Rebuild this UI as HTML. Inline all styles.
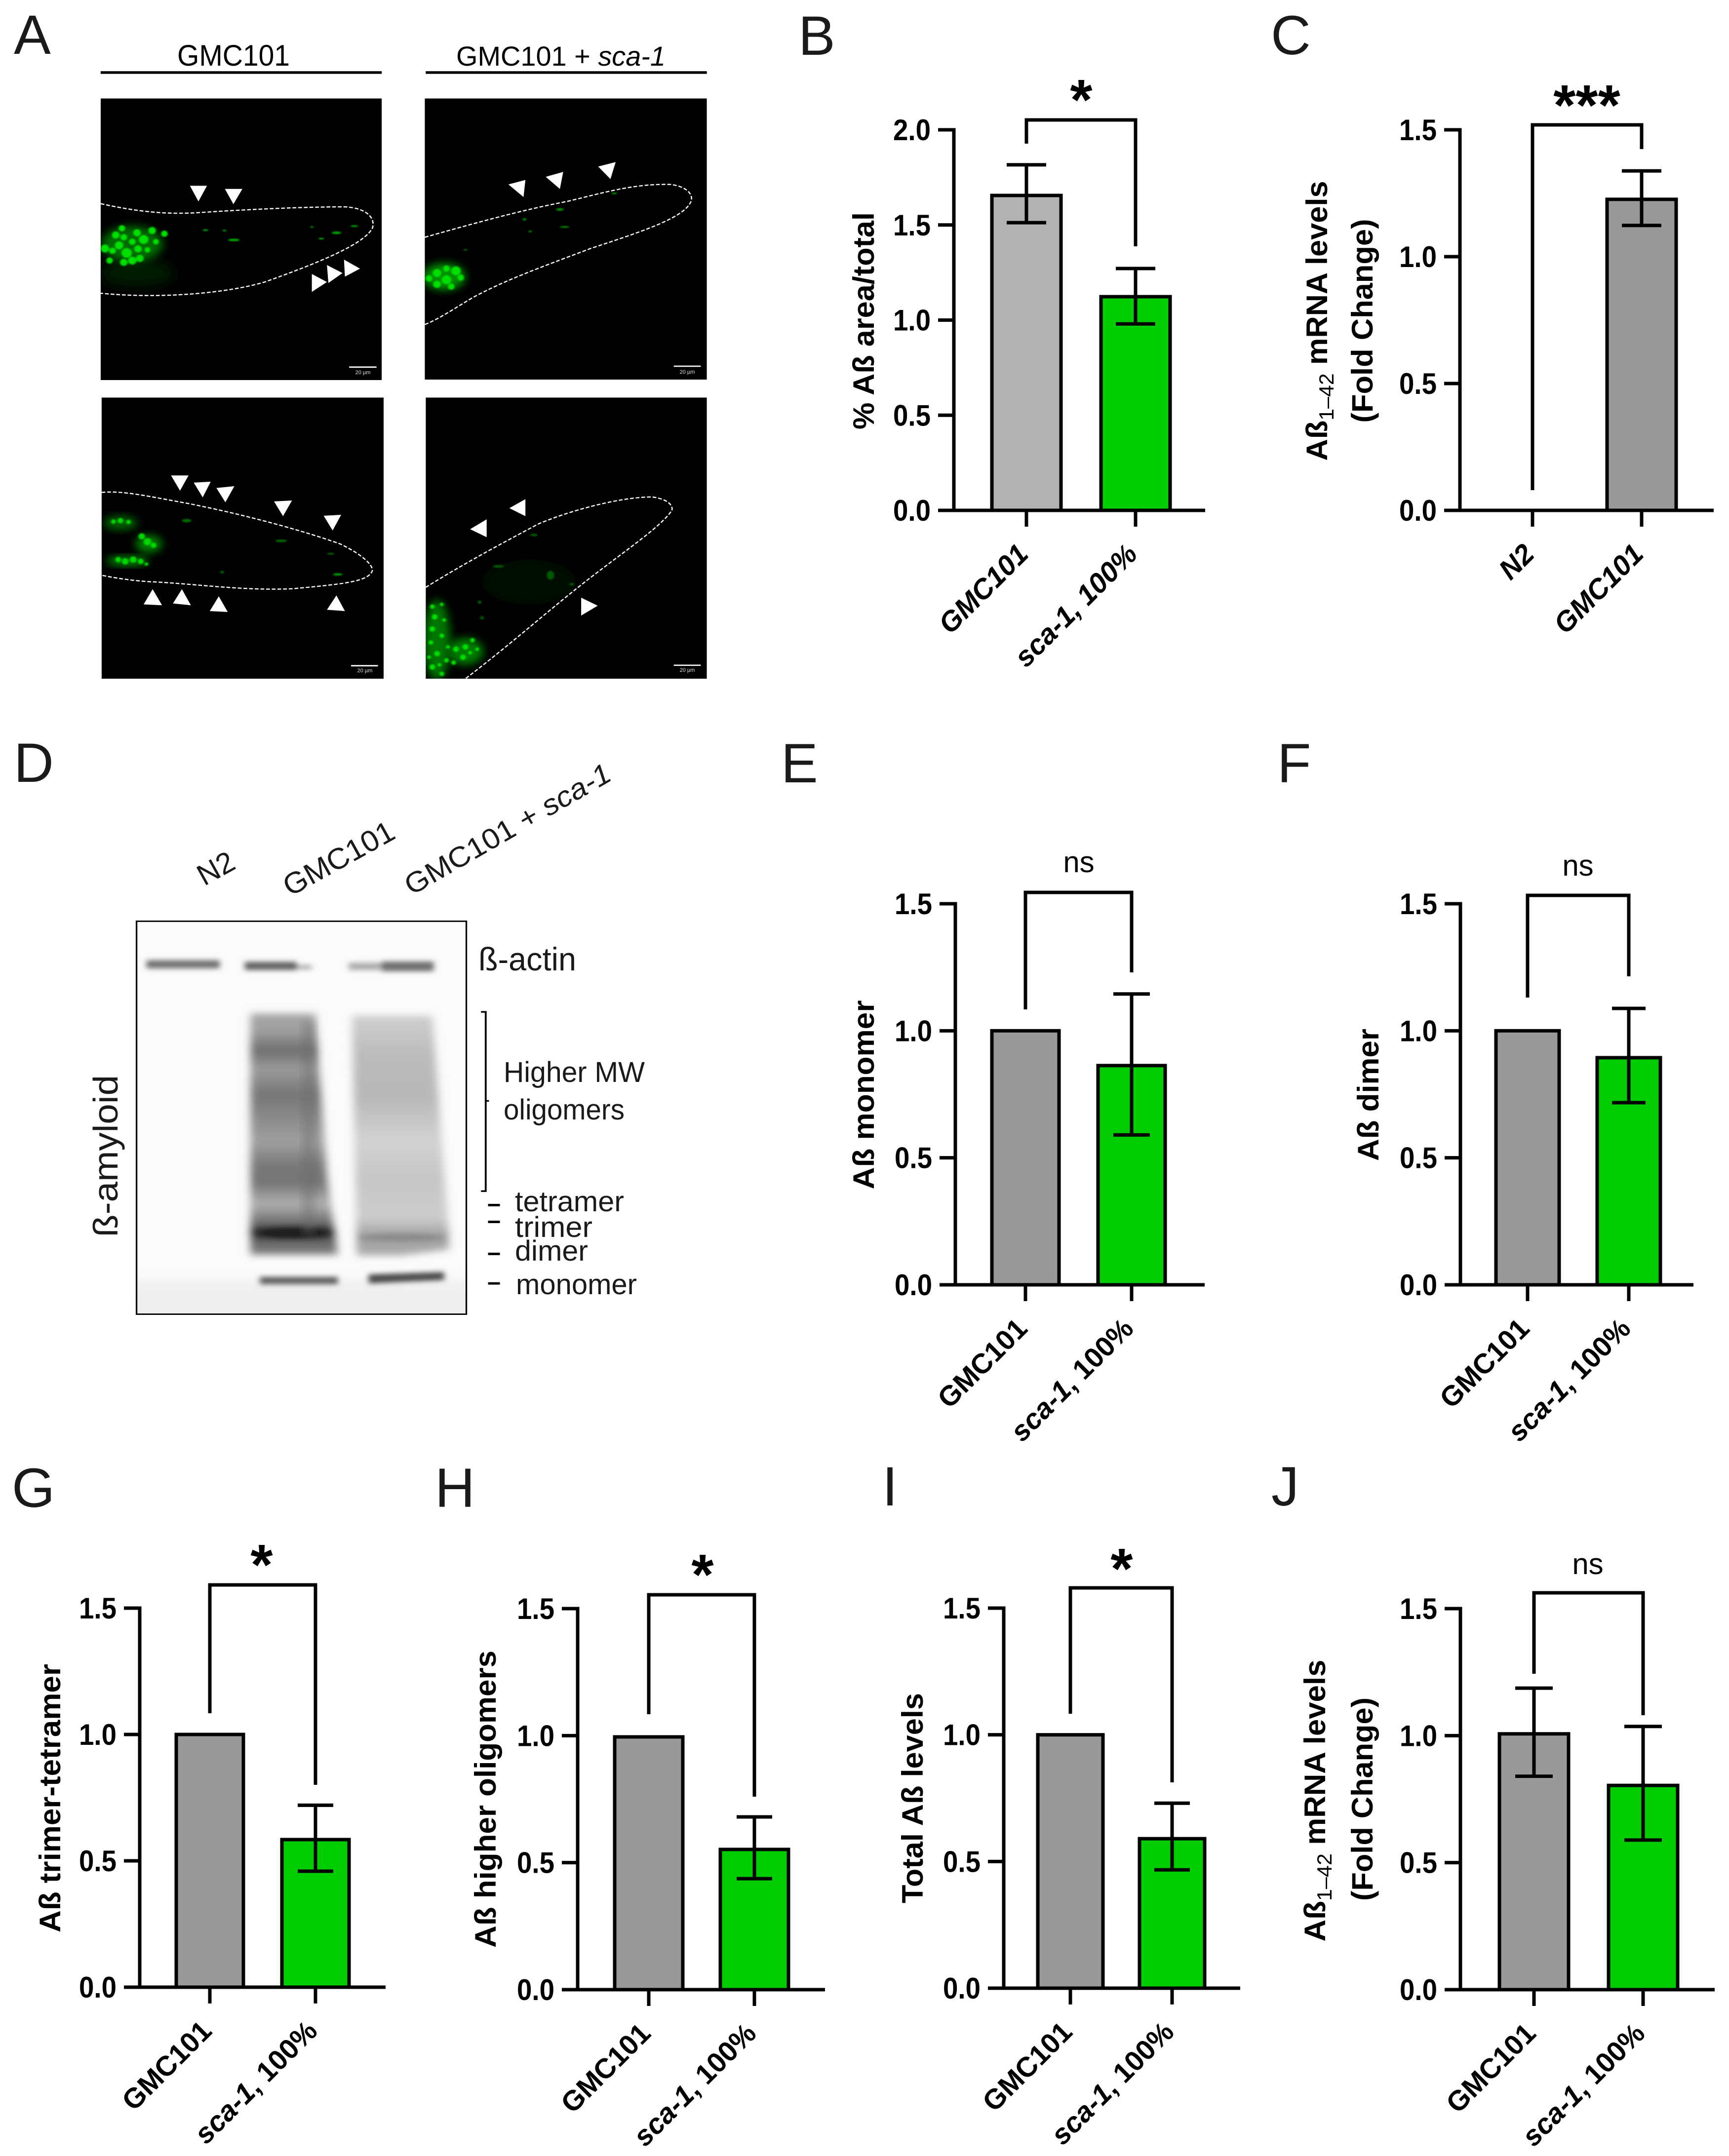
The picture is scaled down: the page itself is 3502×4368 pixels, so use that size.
<!DOCTYPE html>
<html lang="en">
<head>
<meta charset="utf-8">
<title>Amyloid beta figure panels A-J</title>
<style>
html,body{margin:0;padding:0;background:#fff;}
svg{display:block;}
text{font-family:"Liberation Sans",sans-serif;fill:#000;}
.letter{font-size:112px;fill:#1a1a1a;}
.calibri{font-size:66px;fill:#1a1a1a;}
</style>
</head>
<body>
<svg id="figure" xmlns="http://www.w3.org/2000/svg" width="3502" height="4368" viewBox="0 0 3502 4368">
<defs>
<filter id="b1" x="-30%" y="-30%" width="160%" height="160%"><feGaussianBlur stdDeviation="1.6"/></filter>
<filter id="b3" x="-30%" y="-30%" width="160%" height="160%"><feGaussianBlur stdDeviation="9"/></filter>
<filter id="b4" x="-30%" y="-150%" width="160%" height="400%"><feGaussianBlur stdDeviation="6"/></filter>
<filter id="b8" x="-30%" y="-30%" width="160%" height="160%"><feGaussianBlur stdDeviation="14"/></filter>
<clipPath id="c1"><rect x="213" y="220" width="595" height="629"/></clipPath>
<clipPath id="c2"><rect x="899" y="220" width="597" height="628"/></clipPath>
<clipPath id="c3"><rect x="215" y="888" width="597" height="628"/></clipPath>
<clipPath id="c4"><rect x="901" y="888" width="595" height="628"/></clipPath>
<clipPath id="blotclip"><rect x="289" y="465" width="698" height="958"/></clipPath>
<linearGradient id="lane1" x1="0" y1="0" x2="0" y2="1">
<stop offset="0" stop-color="#a6a6a6"/><stop offset=".07" stop-color="#a0a0a0"/><stop offset=".155" stop-color="#6e6e6e"/><stop offset=".23" stop-color="#9c9c9c"/><stop offset=".335" stop-color="#767676"/><stop offset=".44" stop-color="#8c8c8c"/><stop offset=".53" stop-color="#a0a0a0"/><stop offset=".63" stop-color="#787878"/><stop offset=".70" stop-color="#747474"/><stop offset=".79" stop-color="#b0b0b0"/><stop offset=".87" stop-color="#6c6c6c"/><stop offset=".905" stop-color="#202020"/><stop offset=".95" stop-color="#6a6a6a"/><stop offset="1" stop-color="#808080"/>
</linearGradient>
<linearGradient id="lane2" x1="0" y1="0" x2="0" y2="1">
<stop offset="0" stop-color="#cfcfcf"/><stop offset=".16" stop-color="#bcbcbc"/><stop offset=".34" stop-color="#b8b8b8"/><stop offset=".52" stop-color="#d2d2d2"/><stop offset=".68" stop-color="#c6c6c6"/><stop offset=".84" stop-color="#cdcdcd"/><stop offset=".92" stop-color="#a0a0a0"/><stop offset="1" stop-color="#acacac"/>
</linearGradient>
</defs>

<text class="letter" x="28" y="109">A</text>
<text class="letter" x="1617" y="111">B</text>
<text class="letter" x="2574" y="110">C</text>
<text class="letter" x="28" y="1584">D</text>
<text class="letter" x="1582" y="1585">E</text>
<text class="letter" x="2587" y="1585">F</text>
<text class="letter" x="24" y="3053">G</text>
<text class="letter" x="881" y="3053">H</text>
<text class="letter" x="1787" y="3050">I</text>
<text class="letter" x="2575" y="3050">J</text>

<!-- Panel A -->
<g>
<text x="473" y="133" text-anchor="middle" font-size="60" fill="#111" textLength="228" lengthAdjust="spacingAndGlyphs">GMC101</text>
<text x="924" y="133" font-size="56" fill="#111" textLength="424" lengthAdjust="spacingAndGlyphs">GMC101 + <tspan font-style="italic">sca-1</tspan></text>
<g transform="scale(.957 .907)">
<path d="M213 162H808" stroke="#000" stroke-width="6"/>
<path d="M901 162H1496" stroke="#000" stroke-width="6"/>

<g clip-path="url(#c1)">
<rect x="213" y="220" width="595" height="629" fill="#000"/>
<ellipse cx="290" cy="610" rx="80" ry="30" fill="#001a00" filter="url(#b8)"/>
<ellipse cx="280" cy="545" rx="65" ry="40" fill="#006a00" filter="url(#b3)"/>
<g fill="#00e000" filter="url(#b1)">
<circle cx="222" cy="555" r="9"/><circle cx="238" cy="560" r="7"/><circle cx="245" cy="525" r="8"/><circle cx="258" cy="510" r="7"/><circle cx="262" cy="530" r="7"/><circle cx="252" cy="548" r="9"/><circle cx="268" cy="565" r="11"/><circle cx="280" cy="582" r="9"/><circle cx="262" cy="586" r="8"/><circle cx="296" cy="577" r="8"/><circle cx="290" cy="520" r="8"/><circle cx="304" cy="535" r="10"/><circle cx="322" cy="515" r="8"/><circle cx="348" cy="522" r="7"/><circle cx="330" cy="540" r="6"/><circle cx="292" cy="556" r="8"/><circle cx="232" cy="582" r="7"/><circle cx="312" cy="558" r="6"/><circle cx="280" cy="540" r="7"/>
</g>
<g fill="#00a000" filter="url(#b1)">
<ellipse cx="435" cy="514" rx="6" ry="2"/><ellipse cx="475" cy="515" rx="4" ry="2"/><ellipse cx="495" cy="536" rx="12" ry="3"/><ellipse cx="680" cy="533" rx="6" ry="2"/><ellipse cx="712" cy="520" rx="10" ry="3"/><ellipse cx="660" cy="507" rx="3" ry="2"/><ellipse cx="750" cy="505" rx="8" ry="2"/>
</g>
<path d="M213 455C280 470 340 480 420 475C520 468 640 462 730 462C780 465 795 490 788 510C770 545 680 585 560 630C480 655 340 668 213 655" fill="none" stroke="#fff" stroke-width="2.6" stroke-dasharray="8 4"/>
<g fill="#fff">
<polygon points="402,415 438,415 420,450"/><polygon points="476,422 513,422 494,456"/><polygon points="660,612 692,630 660,652"/><polygon points="692,592 725,610 695,632"/><polygon points="728,580 762,600 730,618"/>
</g>
<path d="M739 820H797" stroke="#fff" stroke-width="3"/>
</g>

<g clip-path="url(#c2)">
<rect x="899" y="220" width="597" height="628" fill="#000"/>
<ellipse cx="940" cy="618" rx="45" ry="30" fill="#009000" filter="url(#b3)"/>
<g fill="#00e000" filter="url(#b1)">
<circle cx="925" cy="610" r="9"/><circle cx="945" cy="600" r="7"/><circle cx="965" cy="605" r="10"/><circle cx="975" cy="620" r="7"/><circle cx="945" cy="625" r="10"/><circle cx="925" cy="635" r="8"/><circle cx="955" cy="640" r="7"/><circle cx="908" cy="622" r="7"/>
</g>
<g fill="#008a00" filter="url(#b1)">
<ellipse cx="1110" cy="490" rx="4" ry="3"/><ellipse cx="1185" cy="468" rx="8" ry="3"/><ellipse cx="1195" cy="507" rx="10" ry="2"/><ellipse cx="1122" cy="517" rx="4" ry="2"/><ellipse cx="985" cy="558" rx="4" ry="1.5"/><ellipse cx="1300" cy="432" rx="6" ry="2"/>
</g>
<path d="M899 530C1000 500 1100 470 1200 450C1280 430 1340 410 1420 412C1460 418 1470 440 1460 455C1440 490 1350 520 1250 555C1150 595 1070 625 1000 665C960 690 930 712 899 725" fill="none" stroke="#fff" stroke-width="2.6" stroke-dasharray="8 4"/>
<g fill="#fff">
<polygon points="1076,412 1112,402 1108,440"/><polygon points="1155,395 1192,384 1185,422"/><polygon points="1266,372 1303,362 1292,400"/>
</g>
<path d="M1426 818H1483" stroke="#fff" stroke-width="3"/>
</g>

<g clip-path="url(#c3)">
<rect x="215" y="888" width="597" height="628" fill="#000"/>
<ellipse cx="255" cy="1168" rx="36" ry="16" fill="#006000" filter="url(#b3)"/>
<ellipse cx="315" cy="1215" rx="28" ry="20" fill="#008000" filter="url(#b3)"/>
<ellipse cx="270" cy="1253" rx="45" ry="11" fill="#008800" filter="url(#b3)"/>
<g fill="#00d800" filter="url(#b1)">
<circle cx="240" cy="1165" r="5"/><circle cx="255" cy="1163" r="6"/><circle cx="272" cy="1166" r="5"/><circle cx="300" cy="1198" r="7"/><circle cx="312" cy="1210" r="8"/><circle cx="325" cy="1218" r="6"/><circle cx="250" cy="1250" r="6"/><circle cx="265" cy="1254" r="7"/><circle cx="282" cy="1250" r="7"/><circle cx="298" cy="1254" r="6"/><circle cx="310" cy="1260" r="4"/>
</g>
<g fill="#006800" filter="url(#b1)">
<ellipse cx="395" cy="1163" rx="10" ry="4"/><ellipse cx="595" cy="1208" rx="12" ry="3"/><ellipse cx="715" cy="1283" rx="10" ry="3" fill="#009000"/><ellipse cx="700" cy="1237" rx="8" ry="2"/><ellipse cx="470" cy="1278" rx="4" ry="3"/>
</g>
<path d="M215 1100C260 1095 320 1110 400 1125C520 1150 640 1185 720 1215C760 1235 790 1260 788 1275C780 1300 720 1305 620 1315C520 1320 420 1305 330 1300C280 1298 240 1290 215 1285" fill="none" stroke="#fff" stroke-width="2.6" stroke-dasharray="8 4"/>
<g fill="#fff">
<polygon points="362,1062 399,1062 381,1096"/><polygon points="410,1078 446,1076 429,1111"/><polygon points="458,1090 496,1086 477,1122"/><polygon points="580,1120 618,1118 599,1153"/><polygon points="685,1152 722,1150 704,1185"/><polygon points="304,1350 343,1352 323,1316"/><polygon points="366,1348 404,1352 385,1316"/><polygon points="444,1365 482,1367 463,1332"/><polygon points="692,1362 730,1365 712,1330"/>
</g>
<path d="M743 1487H800" stroke="#fff" stroke-width="3"/>
</g>

<g clip-path="url(#c4)">
<rect x="901" y="888" width="595" height="628" fill="#000"/>
<ellipse cx="925" cy="1430" rx="28" ry="90" fill="#007400" filter="url(#b3)"/>
<ellipse cx="985" cy="1455" rx="38" ry="30" fill="#007c00" filter="url(#b3)"/>
<ellipse cx="1120" cy="1300" rx="100" ry="50" fill="#000a00" filter="url(#b8)"/>
<g fill="#00e000" filter="url(#b1)">
<circle cx="915" cy="1355" r="5"/><circle cx="935" cy="1350" r="4"/><circle cx="920" cy="1378" r="6"/><circle cx="940" cy="1385" r="4"/><circle cx="915" cy="1405" r="6"/><circle cx="935" cy="1420" r="5"/><circle cx="912" cy="1435" r="5"/><circle cx="925" cy="1460" r="6"/><circle cx="945" cy="1475" r="5"/><circle cx="915" cy="1490" r="6"/><circle cx="935" cy="1505" r="5"/><circle cx="965" cy="1450" r="6"/><circle cx="985" cy="1445" r="6"/><circle cx="1000" cy="1430" r="5"/><circle cx="980" cy="1468" r="6"/><circle cx="960" cy="1480" r="5"/><circle cx="1010" cy="1450" r="4"/><circle cx="948" cy="1445" r="4"/><circle cx="995" cy="1458" r="4"/><circle cx="908" cy="1468" r="4"/><circle cx="930" cy="1485" r="4"/>
</g>
<g fill="#005800" filter="url(#b1)">
<circle cx="1015" cy="1345" r="4"/><circle cx="1020" cy="1380" r="4"/><ellipse cx="1055" cy="1265" rx="12" ry="3"/><ellipse cx="1165" cy="1285" rx="8" ry="10"/><ellipse cx="1130" cy="1195" rx="8" ry="3"/><ellipse cx="1210" cy="1305" rx="5" ry="3"/>
</g>
<path d="M901 1312C980 1260 1060 1215 1140 1170C1220 1135 1320 1110 1380 1110C1415 1115 1425 1130 1422 1140C1400 1175 1330 1225 1250 1290C1170 1355 1080 1440 985 1516" fill="none" stroke="#fff" stroke-width="2.6" stroke-dasharray="8 4"/>
<g fill="#fff">
<polygon points="1030,1160 1030,1200 995,1182"/><polygon points="1112,1115 1112,1153 1078,1135"/><polygon points="1230,1335 1230,1375 1265,1353"/>
</g>
<path d="M1426 1486H1483" stroke="#fff" stroke-width="3"/>
</g>
</g>
<text x="735" y="758" text-anchor="middle" font-size="11" style="fill:#ddd">20 µm</text>
<text x="1392" y="757" text-anchor="middle" font-size="11" style="fill:#ddd">20 µm</text>
<text x="739" y="1362" text-anchor="middle" font-size="11" style="fill:#ddd">20 µm</text>
<text x="1392" y="1361" text-anchor="middle" font-size="11" style="fill:#ddd">20 µm</text>
</g>

<!-- Panel D -->
<g>
<g transform="translate(0 1480) scale(.957 .831)">
<rect x="289" y="465" width="698" height="958" fill="#fbfbfb"/>
<g clip-path="url(#blotclip)">
<rect x="260" y="1340" width="760" height="120" fill="#efefef" filter="url(#b8)"/>
</g>
<g filter="url(#b4)">
<rect x="310" y="560" width="155" height="20" fill="#707070"/>
<rect x="518" y="564" width="110" height="20" fill="#606060"/>
<rect x="628" y="572" width="32" height="10" fill="#a8a8a8"/>
<rect x="738" y="566" width="70" height="18" fill="#aaaaaa"/>
<rect x="808" y="563" width="110" height="24" fill="#707070"/>
</g>
<g>
<polygon points="530,690 668,690 692,1090 715,1278 530,1278" fill="url(#lane1)" filter="url(#b3)"/>
<polygon points="745,695 915,695 950,1230 950,1265 850,1280 755,1280" fill="url(#lane2)" filter="url(#b3)"/>
<ellipse cx="620" cy="1225" rx="75" ry="12" fill="#1c1c1c" filter="url(#b4)"/>
<rect x="640" y="710" width="26" height="520" fill="#6a6a6a" opacity=".4" filter="url(#b3)"/>
<ellipse cx="850" cy="1236" rx="90" ry="9" fill="#8a8a8a" filter="url(#b4)"/>
</g>
<g filter="url(#b4)">
<rect x="550" y="1332" width="165" height="18" fill="#5e5e5e"/>
<polygon points="780,1326 940,1320 940,1340 780,1348" fill="#4c4c4c"/>
</g>
<rect x="289" y="465" width="698" height="958" fill="none" stroke="#000" stroke-width="3.4"/>
<path d="M1018 686H1028V1123H1018M1028 903H1035" fill="none" stroke="#000" stroke-width="4"/>
<path d="M1033 1157H1058" stroke="#000" stroke-width="6"/>
<path d="M1033 1198H1058" stroke="#000" stroke-width="6"/>
<path d="M1033 1276H1058" stroke="#000" stroke-width="6"/>
<path d="M1033 1348H1058" stroke="#000" stroke-width="6"/>
</g>
<text class="calibri" transform="translate(447 1777) rotate(-29)" text-anchor="middle" style="font-size:60px">N2</text>
<text class="calibri" transform="translate(696 1757) rotate(-29)" text-anchor="middle" style="font-size:60px" textLength="248" lengthAdjust="spacingAndGlyphs">GMC101</text>
<text class="calibri" transform="translate(1038 1697) rotate(-30)" text-anchor="middle" style="font-size:58px" textLength="472" lengthAdjust="spacingAndGlyphs">GMC101 + <tspan font-style="italic">sca-1</tspan></text>
<text class="calibri" transform="translate(238 2342) rotate(-90)" text-anchor="middle" style="font-size:70px" textLength="328" lengthAdjust="spacingAndGlyphs">ß-amyloid</text>
<text class="calibri" x="969" y="1966" textLength="198" lengthAdjust="spacingAndGlyphs">ß-actin</text>
<text class="calibri" x="1020" y="2192" style="font-size:58px" textLength="286" lengthAdjust="spacingAndGlyphs">Higher MW</text>
<text class="calibri" x="1020" y="2268" style="font-size:58px" textLength="245" lengthAdjust="spacingAndGlyphs">oligomers</text>
<text class="calibri" x="1043" y="2454" style="font-size:58px" textLength="221" lengthAdjust="spacingAndGlyphs">tetramer</text>
<text class="calibri" x="1043" y="2506" style="font-size:58px" textLength="157" lengthAdjust="spacingAndGlyphs">trimer</text>
<text class="calibri" x="1043" y="2554" style="font-size:58px" textLength="148" lengthAdjust="spacingAndGlyphs">dimer</text>
<text class="calibri" x="1045" y="2622" style="font-size:58px" textLength="245" lengthAdjust="spacingAndGlyphs">monomer</text>
</g>

<g id="charts"></g>
</svg>

<script>
// ---- chart data ----
const yTicks15 = [0, 0.5, 1, 1.5];
const yTickLabels15 = ['0.0', '0.5', '1.0', '1.5'];
const yTicks20 = [0, 0.5, 1, 1.5, 2];
const yTickLabels20 = ['0.0', '0.5', '1.0', '1.5', '2.0'];
const categoriesTreat = ['GMC101', 'sca-1, 100%'];
const categoriesStrain = ['N2', 'GMC101'];

const meansB = [1.655, 1.123];
const errHighB = [1.816, 1.271];
const errLowB = [1.512, 0.98];

const meansC = [0, 1.226];
const errHighC = [0, 1.338];
const errLowC = [0, 1.123];

const meansE = [1.0, 0.863];
const errHighE = [1.0, 1.145];
const errLowE = [1.0, 0.59];

const meansF = [1.0, 0.894];
const errHighF = [1.0, 1.088];
const errLowF = [1.0, 0.717];

const meansG = [1.0, 0.584];
const errHighG = [1.0, 0.72];
const errLowG = [1.0, 0.459];

const meansH = [0.995, 0.552];
const errHighH = [0.995, 0.68];
const errLowH = [0.995, 0.437];

const meansI = [1.0, 0.59];
const errHighI = [1.0, 0.73];
const errLowI = [1.0, 0.467];

const meansJ = [1.007, 0.804];
const errHighJ = [1.187, 1.036];
const errLowJ = [0.84, 0.589];

const NS = 'http://www.w3.org/2000/svg';
const root = document.getElementById('charts');
function mk(tag, attrs, parent) {
  const e = document.createElementNS(NS, tag);
  for (const k in attrs) e.setAttribute(k, attrs[k]);
  parent.appendChild(e);
  return e;
}
const LW = 7;

function drawPanel(p) {
  const g = mk('g', {}, root);
  
  
  const yMax = p.ticks[p.ticks.length - 1];
  const y = v => p.y0 - v / yMax * (p.y0 - p.yTop);
  const x = i => p.c0 + i * p.step;

  // bars
  p.cats.forEach((c, i) => {
    if (p.means[i] <= 0) return;
    const hw = p.hw;
    const bar = mk('rect', { x: x(i) - hw, y: y(p.means[i]), width: hw * 2, height: p.y0 - y(p.means[i]), fill: i === p.greenIdx ? '#00cc00' : p.gray, stroke: '#000', 'stroke-width': LW }, g);
    
    
  });

  // error bars
  p.cats.forEach((c, i) => {
    if (p.high[i] === p.low[i]) return;
    const whisker = mk('path', { d: `M${x(i)} ${y(p.high[i])}V${y(p.low[i])}M${x(i) - p.cap} ${y(p.high[i])}H${x(i) + p.cap}M${x(i) - p.cap} ${y(p.low[i])}H${x(i) + p.cap}`, fill: 'none', stroke: '#000', 'stroke-width': LW }, g);
    
    
  });

  // axes
  const yAxis = mk('path', { d: `M${p.x0} ${p.yTop - LW / 2}V${p.y0}`, stroke: '#000', 'stroke-width': LW, fill: 'none' }, g);
  
  
  const xAxis = mk('path', { d: `M${p.x0 - 32} ${p.y0}H${p.xEnd}`, stroke: '#000', 'stroke-width': LW, fill: 'none' }, g);
  
  

  // y ticks
  p.ticks.forEach((t, i) => {
    const tick = mk('path', { d: `M${p.x0 - 32} ${y(t)}H${p.x0}`, stroke: '#000', 'stroke-width': LW }, g);
    
    
    const lab = mk('text', { x: p.x0 - 47, y: y(t) + 21, 'text-anchor': 'end', 'font-size': 60, 'font-weight': 'bold', textLength: 76, lengthAdjust: 'spacingAndGlyphs' }, g);
    lab.textContent = p.tickLabels[i];
    
    
  });

  // x ticks + rotated labels
  p.cats.forEach((c, i) => {
    const tick = mk('path', { d: `M${x(i)} ${p.y0}V${p.y0 + 33}`, stroke: '#000', 'stroke-width': LW }, g);
    
    
    const lab = mk('text', { transform: `translate(${x(i) + 7} ${p.y0 + 92}) rotate(-45)`, 'text-anchor': 'end', 'font-size': 57, 'font-weight': 'bold' }, g);
    
    
    if (p.allItalic) {
      lab.setAttribute('font-style', 'italic');
      lab.textContent = c;
    } else if (c.indexOf(',') > 0) {
      const parts = c.split(',');
      const t1 = mk('tspan', { 'font-style': 'italic' }, lab);
      t1.textContent = parts[0];
      const t2 = mk('tspan', {}, lab);
      t2.textContent = ',' + parts[1];
    } else {
      lab.textContent = c;
    }
  });

  // y-axis title lines
  p.title.forEach(line => {
    const t = mk('text', { transform: `translate(${line.x} ${line.y}) rotate(-90)`, 'text-anchor': 'middle', 'font-size': 60, 'font-weight': 'bold', textLength: line.len, lengthAdjust: 'spacingAndGlyphs' }, g);
    
    
    if (line.sub) {
      const a = mk('tspan', {}, t);
      a.textContent = 'Aß';
      const b = mk('tspan', { dy: 13, 'font-size': 42, 'font-weight': 'normal' }, t);
      b.textContent = '1–42';
      const d = mk('tspan', { dy: -13 }, t);
      d.textContent = ' ' + line.text;
    } else {
      t.textContent = line.text;
    }
  });

  // significance bracket
  const br = p.bracket;
  const path = mk('path', { d: `M${x(0)} ${br.leftEnd}V${br.top}H${x(1)}V${br.rightEnd}`, fill: 'none', stroke: '#000', 'stroke-width': LW }, g);
  
  
  const isStar = br.mark.charAt(0) === '*';
  const mark = mk('text', { x: br.mx, y: isStar ? br.my + 52 : br.my + 19, 'text-anchor': 'middle', 'font-size': isStar ? 116 : 60, 'font-weight': isStar ? 'bold' : 'normal' }, g);
  mark.textContent = br.mark;
  
  
}

drawPanel({ id: 'b', cats: categoriesTreat, means: meansB, high: errHighB, low: errLowB, ticks: yTicks20, tickLabels: yTickLabels20, allItalic: true, greenIdx: 1, gray: '#b2b2b2',
  x0: 1932, y0: 1034, yTop: 263, c0: 2079, step: 221, hw: 70, cap: 40, xEnd: 2441,
  title: [{ text: '% Aß area/total', x: 1770, y: 650, len: 440 }],
  bracket: { top: 243, leftEnd: 291, rightEnd: 499, mark: '*', mx: 2190, my: 190 } });

drawPanel({ id: 'c', cats: categoriesStrain, means: meansC, high: errHighC, low: errLowC, ticks: yTicks15, tickLabels: yTickLabels15, allItalic: true, greenIdx: -1, gray: '#999999',
  x0: 2957, y0: 1034, yTop: 263, c0: 3104, step: 221, hw: 70, cap: 40, xEnd: 3471,
  title: [{ text: 'mRNA levels', sub: true, x: 2688, y: 650, len: 567 }, { text: '(Fold Change)', x: 2780, y: 650, len: 413 }],
  bracket: { top: 253, leftEnd: 993, rightEnd: 302, mark: '***', mx: 3214, my: 201 } });

drawPanel({ id: 'e', cats: categoriesTreat, means: meansE, high: errHighE, low: errLowE, ticks: yTicks15, tickLabels: yTickLabels15, greenIdx: 1, gray: '#999999',
  x0: 1935, y0: 2603, yTop: 1831, c0: 2077, step: 215, hw: 68, cap: 37, xEnd: 2440,
  title: [{ text: 'Aß monomer', x: 1770, y: 2218, len: 383 }],
  bracket: { top: 1808, leftEnd: 2045, rightEnd: 1970, mark: 'ns', mx: 2185, my: 1748 } });

drawPanel({ id: 'f', cats: categoriesTreat, means: meansF, high: errHighF, low: errLowF, ticks: yTicks15, tickLabels: yTickLabels15, greenIdx: 1, gray: '#999999',
  x0: 2958, y0: 2603, yTop: 1831, c0: 3094, step: 205, hw: 64, cap: 34, xEnd: 3430,
  title: [{ text: 'Aß dimer', x: 2792, y: 2218, len: 268 }],
  bracket: { top: 1814, leftEnd: 2021, rightEnd: 1978, mark: 'ns', mx: 3196, my: 1755 } });

drawPanel({ id: 'g', cats: categoriesTreat, means: meansG, high: errHighG, low: errLowG, ticks: yTicks15, tickLabels: yTickLabels15, greenIdx: 1, gray: '#999999',
  x0: 283, y0: 4026, yTop: 3258, c0: 425, step: 214, hw: 68, cap: 36, xEnd: 781,
  title: [{ text: 'Aß trimer-tetramer', x: 122, y: 3643, len: 544 }],
  bracket: { top: 3211, leftEnd: 3471, rightEnd: 3616, mark: '*', mx: 530, my: 3158 } });

drawPanel({ id: 'h', cats: categoriesTreat, means: meansH, high: errHighH, low: errLowH, ticks: yTicks15, tickLabels: yTickLabels15, greenIdx: 1, gray: '#999999',
  x0: 1170, y0: 4031, yTop: 3259, c0: 1314, step: 214, hw: 69, cap: 36, xEnd: 1671,
  title: [{ text: 'Aß higher oligomers', x: 1004, y: 3645, len: 602 }],
  bracket: { top: 3231, leftEnd: 3473, rightEnd: 3640, mark: '*', mx: 1423, my: 3178 } });

drawPanel({ id: 'i', cats: categoriesTreat, means: meansI, high: errHighI, low: errLowI, ticks: yTicks15, tickLabels: yTickLabels15, greenIdx: 1, gray: '#999999',
  x0: 2033, y0: 4028, yTop: 3258, c0: 2168, step: 206, hw: 66, cap: 36, xEnd: 2512,
  title: [{ text: 'Total Aß levels', x: 1869, y: 3643, len: 426 }],
  bracket: { top: 3217, leftEnd: 3472, rightEnd: 3611, mark: '*', mx: 2272, my: 3166 } });

drawPanel({ id: 'j', cats: categoriesTreat, means: meansJ, high: errHighJ, low: errLowJ, ticks: yTicks15, tickLabels: yTickLabels15, greenIdx: 1, gray: '#999999',
  x0: 2958, y0: 4031, yTop: 3259, c0: 3107, step: 221, hw: 70, cap: 38, xEnd: 3473,
  title: [{ text: 'mRNA levels', sub: true, x: 2684, y: 3648, len: 571 }, { text: '(Fold Change)', x: 2780, y: 3645, len: 412 }],
  bracket: { top: 3227, leftEnd: 3391, rightEnd: 3475, mark: 'ns', mx: 3216, my: 3170 } });
</script>
</body>
</html>
